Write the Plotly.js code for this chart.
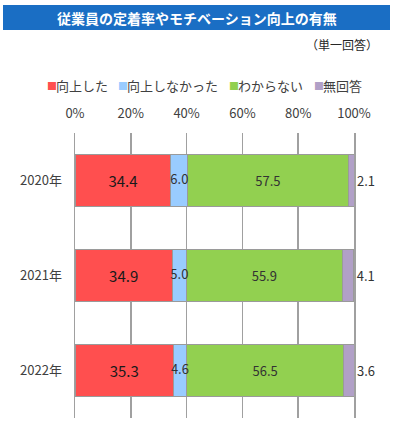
<!DOCTYPE html>
<html>
<head>
<meta charset="utf-8">
<script src="https://cdn.plot.ly/plotly-3.0.1.min.js"></script>
<style>
html,body{margin:0;padding:0;background:#fff;}
#chart{width:394px;height:425px;}
</style>
</head>
<body>
<div id="chart"></div>
<script>
const years = ["2020年", "2021年", "2022年"];
const seriesNames = ["向上した", "向上しなかった", "わからない", "無回答"];
const improved = [34.4, 34.9, 35.3];
const notImproved = [6.0, 5.0, 4.6];
const unknown = [57.5, 55.9, 56.5];
const noAnswer = [2.1, 4.1, 3.6];
const xTickVals = [0, 20, 40, 60, 80, 100];
const xTickText = ["0%", "20%", "40%", "60%", "80%", "100%"];
const chartTitle = "従業員の定着率やモチベーション向上の有無";
const note = "（単一回答）";

const colors = ["#FF4F4F", "#99CCFF", "#92D050", "#B1A0C7"];
const FONT = "Noto Sans CJK JP, Noto Sans, sans-serif";
const values = [improved, notImproved, unknown, noAnswer];
const textSizes = [15, 13, 13, 13];
const textColors = ["#1a1a1a", "#333333", "#333333", "#333333"];

const traces = values.map((v, i) => ({
  type: "bar",
  orientation: "h",
  name: seriesNames[i],
  y: years,
  x: v,
  text: i === 1 ? v.map(() => "") : v.map(n => n.toFixed(1)),
  textposition: i === 3 ? "outside" : "inside",
  insidetextanchor: "middle",
  constraintext: "none",
  cliponaxis: false,
  textfont: {family: FONT, size: textSizes[i], color: textColors[i]},
  insidetextfont: {family: FONT, size: textSizes[i], color: textColors[i]},
  outsidetextfont: {family: FONT, size: textSizes[i], color: textColors[i]},
  marker: {color: colors[i], line: {color: "#9a9a9a", width: 1}},
  hoverinfo: "none"
}));

// labels of the narrow "向上しなかった" segments, drawn on top so they are not covered
traces.push({
  type: "scatter",
  mode: "text",
  y: years,
  x: notImproved.map((v, k) => improved[k] + v / 2),
  text: notImproved.map(n => n.toFixed(1)),
  textposition: "middle center",
  textfont: {family: FONT, size: 13, color: "#333333"},
  cliponaxis: false,
  hoverinfo: "none",
  showlegend: false
});

// plot area: x 75..354, y 133..418
const px = x => (x - 75) / 279;
const py = y => (418 - y) / 285;

// legend drawn with annotations
const legendX = [45, 116, 227, 312];
const annotations = [];
seriesNames.forEach((n, i) => {
  annotations.push({
    xref: "paper", yref: "paper", x: px(legendX[i]), y: py(86),
    xanchor: "left", yanchor: "middle", showarrow: false,
    text: "■", font: {family: FONT, size: 10, color: colors[i]}
  });
  annotations.push({
    xref: "paper", yref: "paper", x: px(legendX[i] + 9), y: py(86),
    xanchor: "left", yanchor: "middle", showarrow: false,
    text: n, font: {family: FONT, size: 13, color: "#404040"}
  });
});
annotations.push({
  xref: "paper", yref: "paper", x: px(196.5), y: py(17.5),
  xanchor: "center", yanchor: "middle", showarrow: false,
  text: "<b>" + chartTitle + "</b>", font: {family: FONT, size: 14, color: "#ffffff"}
});
annotations.push({
  xref: "paper", yref: "paper", x: px(380), y: py(45),
  xanchor: "right", yanchor: "middle", showarrow: false,
  text: note, font: {family: FONT, size: 12, color: "#262626"}
});

const layout = {
  width: 394, height: 425,
  margin: {l: 75, r: 40, t: 133, b: 7, pad: 0},
  paper_bgcolor: "#ffffff", plot_bgcolor: "#ffffff",
  barmode: "stack",
  bargap: 0.45,
  showlegend: false,
  font: {family: FONT, color: "#404040"},
  xaxis: {
    side: "top", range: [0, 100], fixedrange: true,
    tickvals: xTickVals, ticktext: xTickText,
    showgrid: true, gridcolor: "#a0a0a0", gridwidth: 1.5,
    zeroline: false, showline: false,
    ticks: "outside", ticklen: 9, tickcolor: "rgba(0,0,0,0)",
    tickfont: {family: FONT, size: 13, color: "#404040"}
  },
  yaxis: {
    autorange: "reversed", fixedrange: true,
    showgrid: false, zeroline: false,
    showline: true, mirror: true, linecolor: "#a0a0a0", linewidth: 1.5,
    ticks: "outside", ticklen: 9, tickcolor: "rgba(0,0,0,0)",
    tickfont: {family: FONT, size: 13, color: "#404040"}
  },
  shapes: [{
    type: "rect", xref: "paper", yref: "paper",
    x0: px(3), x1: px(390), y0: py(30), y1: py(5),
    fillcolor: "#1A6EC4", line: {width: 0}, layer: "below"
  }],
  annotations: annotations
};

Plotly.newPlot("chart", traces, layout, {displayModeBar: false, staticPlot: true});
</script>
</body>
</html>
